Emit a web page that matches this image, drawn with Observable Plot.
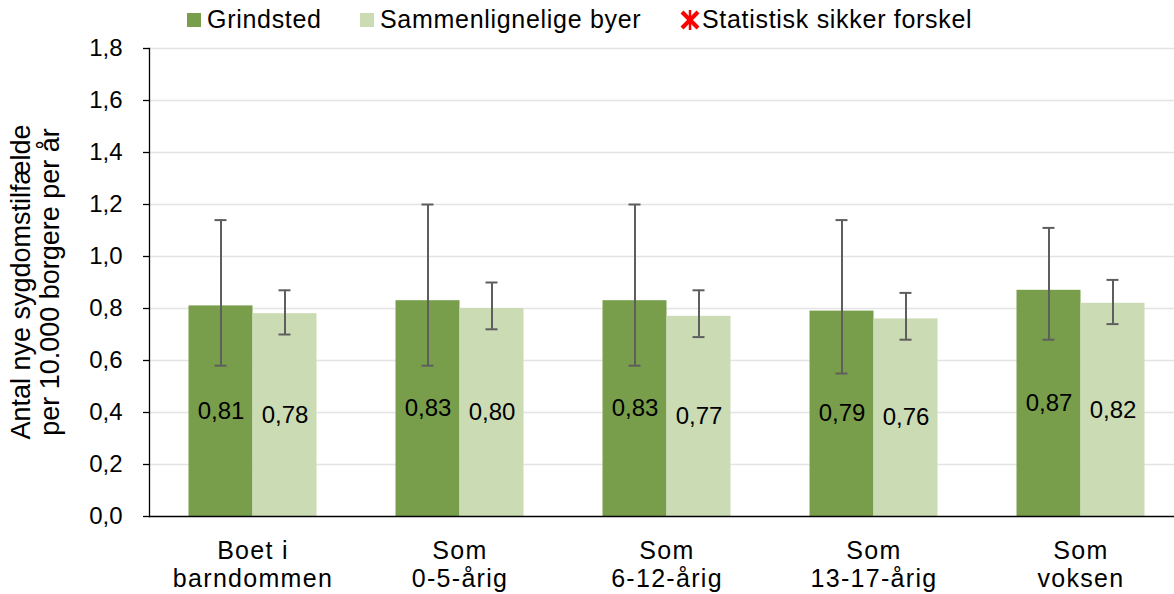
<!DOCTYPE html>
<html>
<head>
<meta charset="utf-8">
<script src="https://cdn.jsdelivr.net/npm/d3@7"></script>
<script src="https://cdn.jsdelivr.net/npm/@observablehq/plot@0.6"></script>
<style>
  html, body { margin: 0; padding: 0; background: #fff; }
  #wrap { position: relative; width: 1174px; height: 594px; font-family: "Liberation Sans", Arial, sans-serif; color: #000; }
  #wrap svg { display: block; }
  .leg { position: absolute; top: 5px; font-size: 25px; line-height: 29px; white-space: nowrap; letter-spacing: 0.7px; }
  .sw { position: absolute; top: 13px; width: 14px; height: 14px; }
  #ytitle { position: absolute; left: -164px; top: 253px; width: 400px; height: 58px; text-align: center;
            font-size: 27px; line-height: 29px; transform: rotate(-90deg); transform-origin: 200px 29px; white-space: nowrap; }
</style>
</head>
<body>
<div id="wrap"></div>
<script>
// ---- data ----
const categories = ["Boet i\nbarndommen", "Som\n0-5-årig", "Som\n6-12-årig", "Som\n13-17-årig", "Som\nvoksen"];
const seriesNames = ["Grindsted", "Sammenlignelige byer"];
const grindsted      = [0.81, 0.83, 0.83, 0.79, 0.87];
const grindstedLow   = [0.58, 0.58, 0.58, 0.55, 0.68];
const grindstedHigh  = [1.14, 1.20, 1.20, 1.14, 1.11];
const comparison     = [0.78, 0.80, 0.77, 0.76, 0.82];
const comparisonLow  = [0.70, 0.72, 0.69, 0.68, 0.74];
const comparisonHigh = [0.87, 0.90, 0.87, 0.86, 0.91];
const yTicks = [0, 0.2, 0.4, 0.6, 0.8, 1.0, 1.2, 1.4, 1.6, 1.8];
const legendSignificant = "Statistisk sikker forskel";
const yTitle = "Antal nye sygdomstilfælde\nper 10.000 borgere per år";
const colors = ["#789e4b", "#cbdbb4"];

// ---- table ----
const rows = [];
categories.forEach((c, i) => {
  rows.push({category: c, series: seriesNames[0], value: grindsted[i], low: grindstedLow[i], high: grindstedHigh[i]});
  rows.push({category: c, series: seriesNames[1], value: comparison[i], low: comparisonLow[i], high: comparisonHigh[i]});
});
const fmt = (v, n) => v.toFixed(n).replace(".", ",");
const errColor = "#5e5e5e";

const chart = Plot.plot({
  width: 1174,
  height: 594,
  marginLeft: 148.5,
  marginRight: 0,
  marginTop: 48,
  marginBottom: 78,
  style: {fontFamily: "'Liberation Sans', Arial, sans-serif", background: "transparent", color: "#000"},
  fx: {domain: categories, range: [148.5, 1183.5], padding: 0, label: null},
  x: {domain: seriesNames, paddingInner: 0, paddingOuter: 0.605, axis: null},
  y: {domain: [0, 1.8]},
  color: {domain: seriesNames, range: colors},
  marks: [
    Plot.ruleY(yTicks.filter(t => t > 0), {stroke: "#e4e4e4", strokeWidth: 1.3}),
    Plot.barY(rows, {fx: "category", x: "series", y: "value", fill: "series"}),
    Plot.ruleX(rows, {fx: "category", x: "series", y1: "low", y2: "high", stroke: errColor, strokeWidth: 2}),
    Plot.tickY(rows, {fx: "category", x: "series", y: "high", stroke: errColor, strokeWidth: 2, insetLeft: 26, insetRight: 26}),
    Plot.tickY(rows, {fx: "category", x: "series", y: "low", stroke: errColor, strokeWidth: 2, insetLeft: 26, insetRight: 26}),
    Plot.text(rows, {fx: "category", x: "series", y: d => d.value / 2, text: d => fmt(d.value, 2), fontSize: 24, fill: "#000"}),
    Plot.ruleY([0], {stroke: "#000", strokeWidth: 1.3}),
    Plot.frame({anchor: "left", facetAnchor: "left", stroke: "#000", strokeWidth: 1.3}),
    Plot.axisY({ticks: yTicks, tickFormat: d => fmt(d, 1), tickSize: 6, tickPadding: 21, fontSize: 24, label: null, stroke: "#000", strokeWidth: 1.3}),
    Plot.axisFx({anchor: "bottom", tickSize: 0, tickPadding: 23, fontSize: 25, lineHeight: 1.1, lineAnchor: "top", label: null})
  ]
});

d3.select(chart).selectAll('[aria-label="fx-axis tick label"] text').style("letter-spacing", "1.3px");

const wrap = document.getElementById("wrap");
wrap.appendChild(chart);

// ---- legend (HTML overlay) ----
function addSwatch(left, color) {
  const s = document.createElement("div");
  s.className = "sw"; s.style.left = left + "px"; s.style.background = color;
  wrap.appendChild(s);
}
function addText(left, text) {
  const t = document.createElement("div");
  t.className = "leg"; t.style.left = left + "px"; t.textContent = text;
  wrap.appendChild(t);
}
addSwatch(187, colors[0]); addText(207, seriesNames[0]);
addSwatch(360, colors[1]); addText(380, seriesNames[1]);
const ns = "http://www.w3.org/2000/svg";
const star = document.createElementNS(ns, "svg");
star.setAttribute("width", 22); star.setAttribute("height", 22);
star.style.position = "absolute"; star.style.left = "679px"; star.style.top = "9px";
[[3, 3, 19, 19], [19, 3, 3, 19], [11, 1, 11, 21]].forEach(([x1, y1, x2, y2], i) => {
  const l = document.createElementNS(ns, "line");
  l.setAttribute("x1", x1); l.setAttribute("y1", y1); l.setAttribute("x2", x2); l.setAttribute("y2", y2);
  l.setAttribute("stroke", "#ff0000"); l.setAttribute("stroke-width", i < 2 ? 4 : 2.5);
  star.appendChild(l);
});
wrap.appendChild(star);
addText(702, legendSignificant);

// ---- y axis title ----
const yt = document.createElement("div");
yt.id = "ytitle";
yt.innerHTML = yTitle.split("\n").map(s => s.replace(/&/g, "&amp;")).join("<br>");
wrap.appendChild(yt);
</script>
</body>
</html>
